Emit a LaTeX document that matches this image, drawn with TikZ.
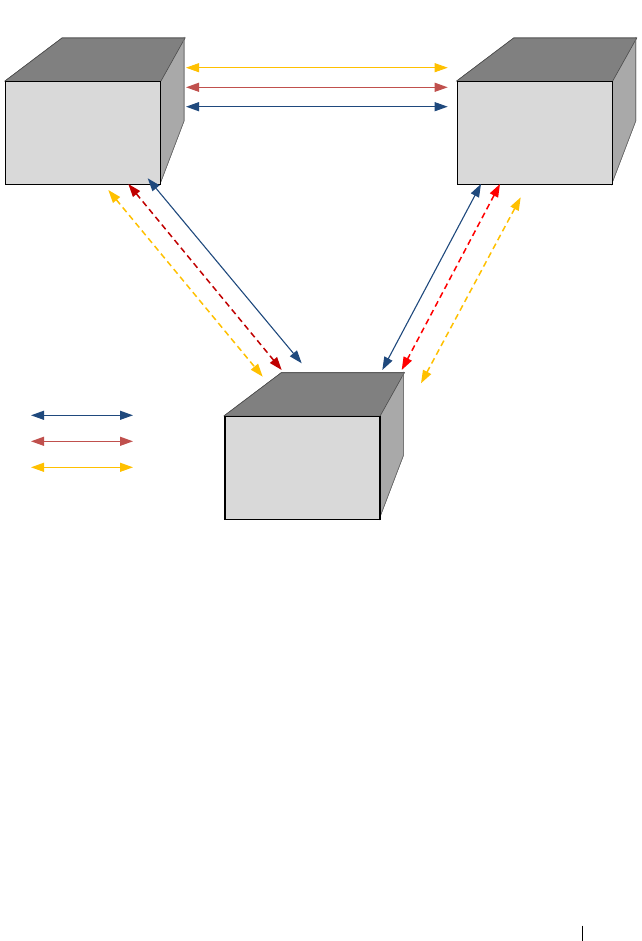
\documentclass[tikz,border=0pt]{standalone}
\usetikzlibrary{arrows.meta}
\definecolor{cyel}{HTML}{FFC000}
\definecolor{cred}{HTML}{C0504D}
\definecolor{cblue}{HTML}{1F497D}
\definecolor{cdred}{HTML}{C00000}
\definecolor{cbred}{HTML}{FF0000}
\definecolor{ctop}{HTML}{808080}
\definecolor{cside}{HTML}{A9A9A9}
\definecolor{cfront}{HTML}{D9D9D9}
\tikzset{
  link/.style={line width=1.1pt, {Triangle[length=13pt,width=9pt]}-{Triangle[length=13pt,width=9pt]}},
  dlink/.style={link, line width=1.5pt, dash pattern=on 6pt off 4pt},
  topface/.style={fill=ctop, draw=black!70, line width=0.6pt},
  sideface/.style={fill=cside, draw=black!60, line width=0.6pt},
  frontface/.style={fill=cfront, draw=black, line width=1.3pt},
}
\newcommand{\mybox}[3]{% #1 name, #2 x, #3 y (front top-left)
  \fill[topface] (#2,#3) -- ++(57,-43) -- ++(123,0) -- ++(-24,43) -- cycle;
  \fill[sideface] (#2+155,#3) -- ++(24,-43) -- ++(0,83) -- ++(-24,63) -- cycle;
  \draw[topface] (#2,#3) -- ++(57,-43) -- ++(123,0) -- ++(-24,43);
  \draw[sideface] (#2+179,#3-43) -- ++(0,83) -- ++(-24,63);
  \node[frontface, minimum width=155pt, minimum height=103pt, inner sep=0pt, anchor=north west] (#1) at (#2,#3) {};
}
\begin{document}
\begin{tikzpicture}[x=1pt,y=-1pt]
\useasboundingbox (0,0) rectangle (641,941);
\mybox{A}{5}{81}
\mybox{B}{456.7}{81}
\mybox{C}{224.3}{415.7}
% horizontal links
\coordinate (h1a) at (186,67.7); \coordinate (h1b) at (447.7,67.7);
\coordinate (h2a) at (186,87.3); \coordinate (h2b) at (447.7,87.3);
\coordinate (h3a) at (186,106.7); \coordinate (h3b) at (447.7,106.7);
\draw[link, cyel, line width=0.8pt] (h1a) -- (h1b);
\draw[link, cred] (h2a) -- (h2b);
\draw[link, cblue] (h3a) -- (h3b);
% left diagonals
\coordinate (l1a) at (147.7,178.3); \coordinate (l1b) at (301.7,363.3);
\coordinate (l2a) at (128.3,184); \coordinate (l2b) at (281.7,370);
\coordinate (l3a) at (108.3,190); \coordinate (l3b) at (262.7,376.7);
\draw[link, cblue] (l1a) -- (l1b);
\draw[dlink, cdred] (l2a) -- (l2b);
\draw[dlink, cyel] (l3a) -- (l3b);
% right diagonals
\coordinate (r1a) at (481,184); \coordinate (r1b) at (382.3,370);
\coordinate (r2a) at (500,184); \coordinate (r2b) at (401.7,370);
\coordinate (r3a) at (520.7,197.3); \coordinate (r3b) at (421,383.3);
\draw[link, cblue] (r1a) -- (r1b);
\draw[dlink, cbred] (r2a) -- (r2b);
\draw[dlink, cyel] (r3a) -- (r3b);
% legend
\coordinate (g1a) at (31,415.3); \coordinate (g1b) at (133,415.3);
\coordinate (g2a) at (31,441.3); \coordinate (g2b) at (133,441.3);
\coordinate (g3a) at (31,467.3); \coordinate (g3b) at (133,467.3);
\draw[link, cblue] (g1a) -- (g1b);
\draw[link, cred] (g2a) -- (g2b);
\draw[link, cyel] (g3a) -- (g3b);
% page mark
\coordinate (pm1) at (582.3,925.7); \coordinate (pm2) at (582.3,940.7);
\draw[line width=0.8pt] (pm1) -- (pm2);
\end{tikzpicture}
\end{document}
